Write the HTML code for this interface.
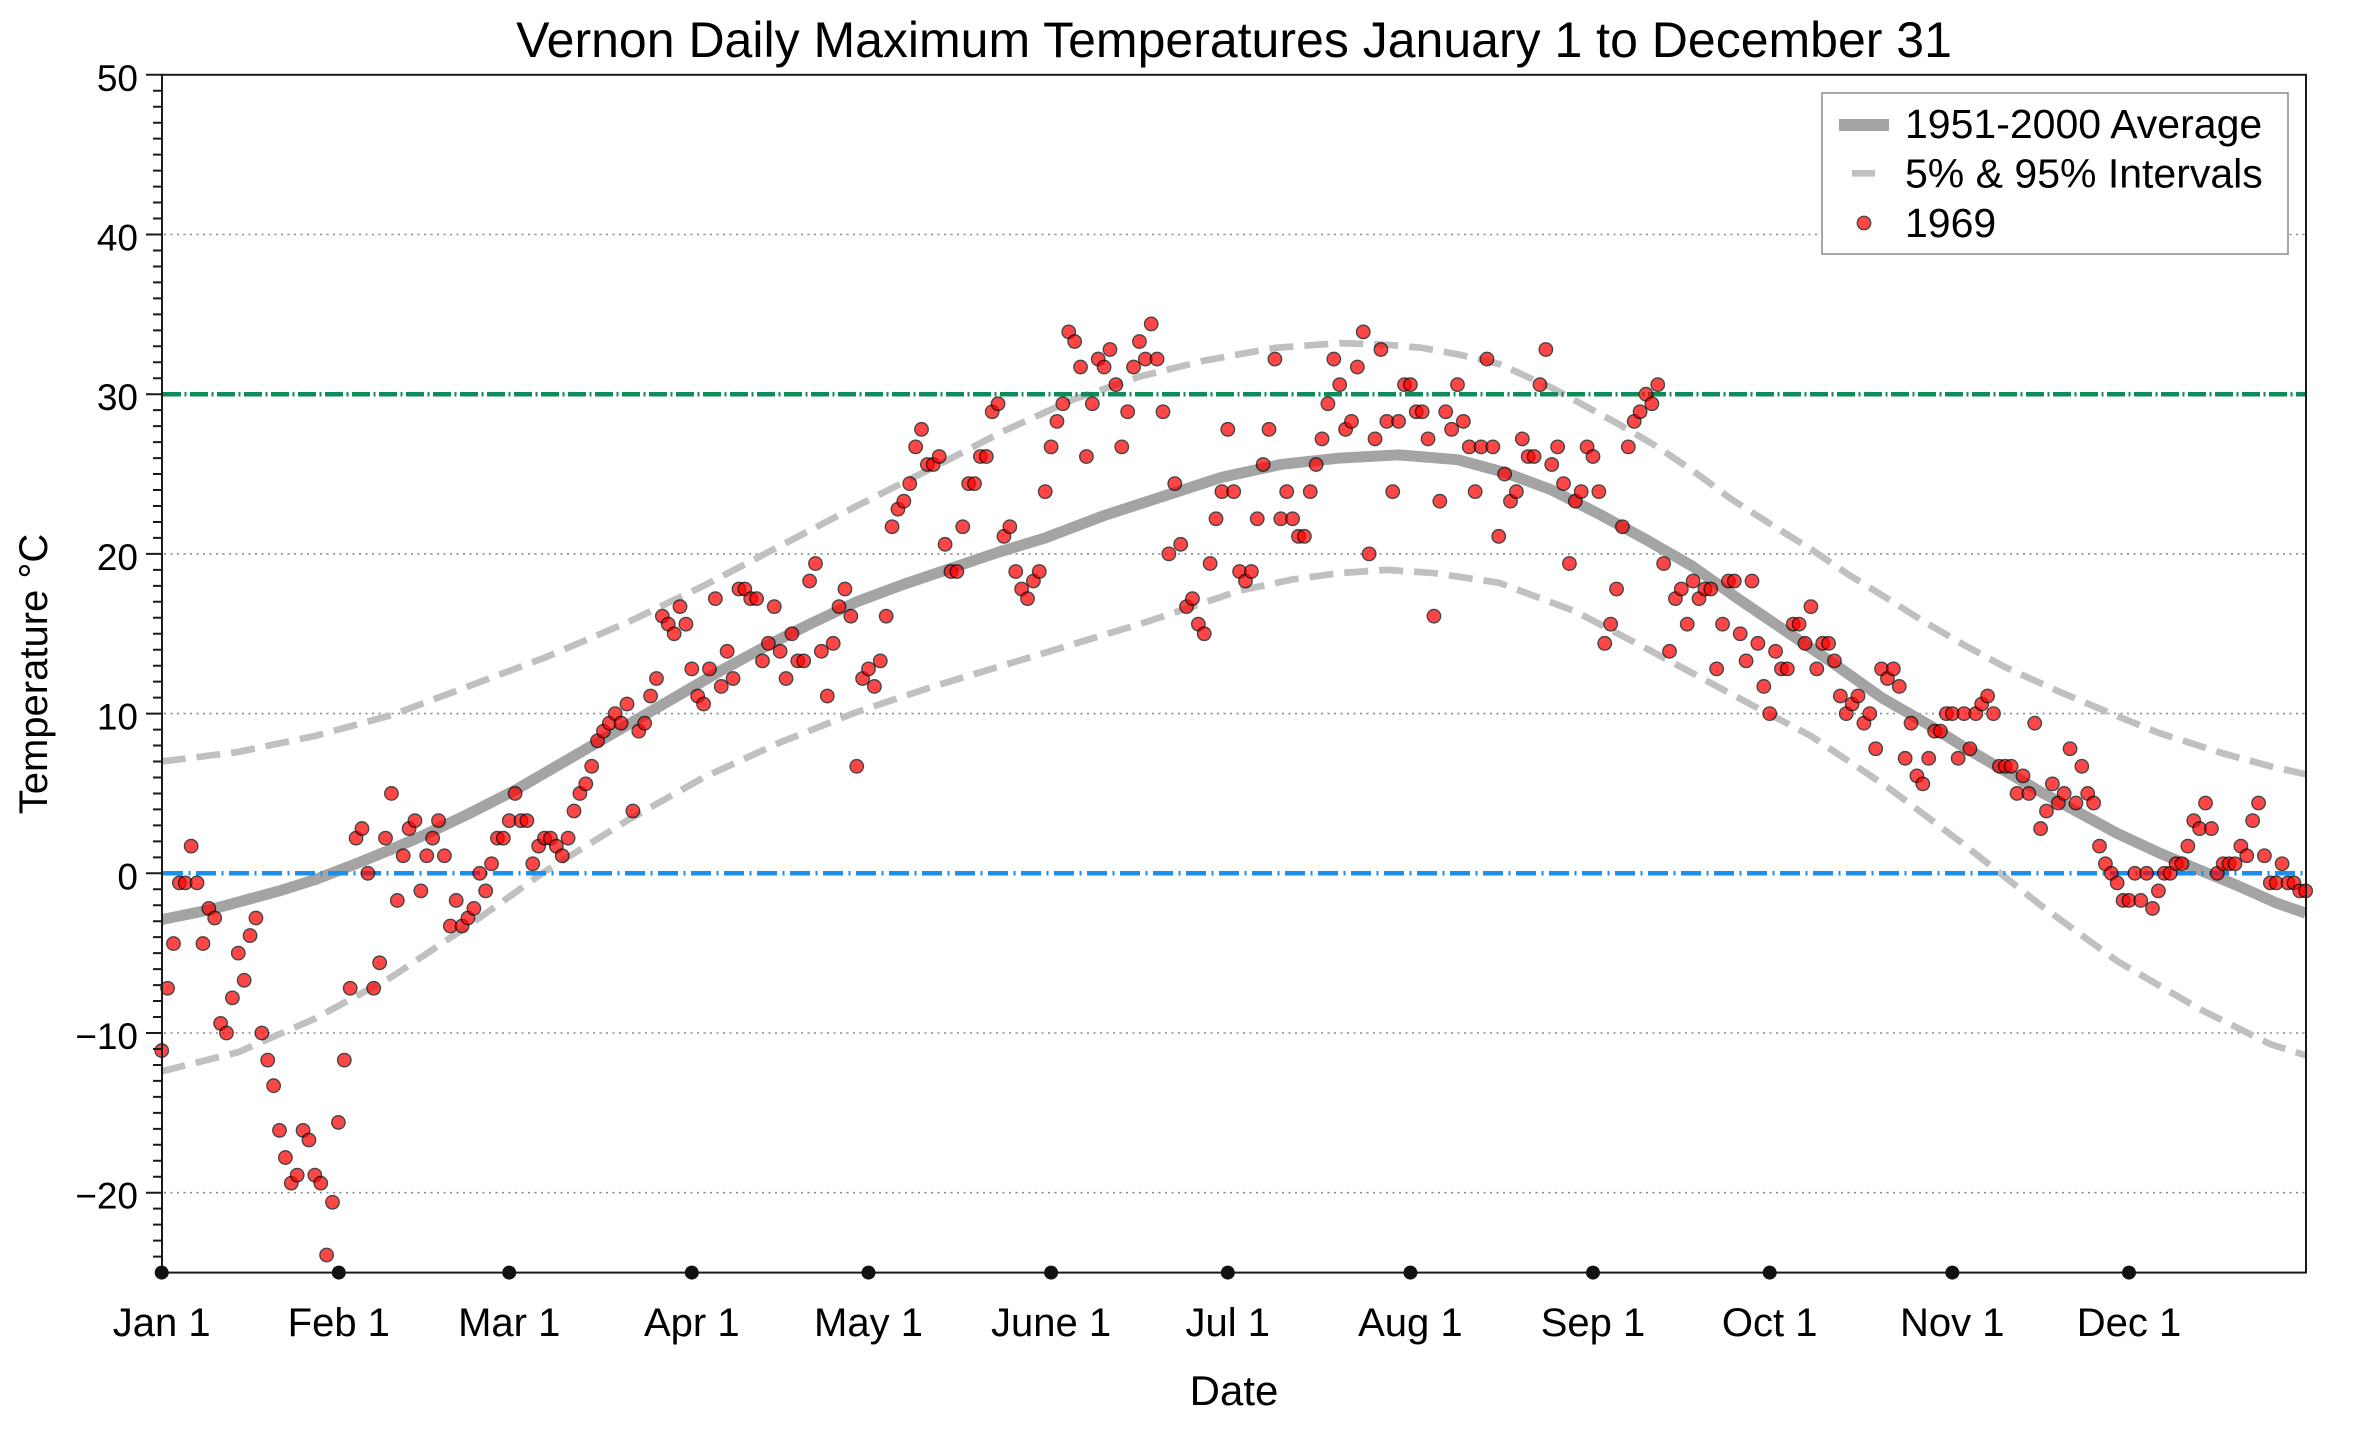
<!DOCTYPE html>
<html><head><meta charset="utf-8"><style>
html,body{margin:0;padding:0;background:#fff;}
svg{display:block;}
text{font-family:"Liberation Sans",Arial,sans-serif;fill:#000;}
</style></head><body>
<svg xmlns="http://www.w3.org/2000/svg" width="2360" height="1432" viewBox="0 0 2360 1432">
<defs>
<marker id="dot" markerUnits="userSpaceOnUse" markerWidth="4" markerHeight="4" refX="0" refY="0" orient="0" overflow="visible">
<g opacity="0.72"><ellipse cx="0" cy="0" rx="1.2564" ry="0.4634" fill="#000"/><ellipse cx="0" cy="0" rx="1.0187" ry="0.3757" fill="#ff0000"/></g>
</marker>
</defs>
<rect width="2360" height="1432" fill="#fff"/>
<text x="1234" y="57" font-size="50" text-anchor="middle">Vernon Daily Maximum Temperatures January 1 to December 31</text>

<!-- grid -->
<g stroke="#8a8a8a" stroke-width="1.6" stroke-dasharray="2 4.5" fill="none">
<path d="M164,234.5H2306M164,553.9H2306M164,713.6H2306M164,1033H2306M164,1192.7H2306"/>
</g>

<!-- curves in data coordinates -->
<g transform="translate(161.7,873.3) scale(5.89,-15.97)" fill="none" stroke-linejoin="round">
<polyline vector-effect="non-scaling-stroke" stroke="#c0c0c0" stroke-width="6.7" stroke-dasharray="24 11" points="0,7.0 13,7.6 26,8.6 39,9.9 52,11.7 65,13.5 79,15.7 92,18.0 105,20.5 118,23.0 132,25.6 143,27.7 155,29.7 166,31.1 177,32.1 189,32.9 200,33.2 208,33.1 214,32.9 220,32.5 227,31.9 236,30.4 247,28.2 253.5,26.8 260,25.2 266.6,23.4 273,21.9 280,20.3 286.4,18.7 293,17.2 299,15.8 306,14.3 313,12.9 322,11.4 331,10.0 339,8.8 350,7.5 358,6.7 364,6.2"/>
<polyline vector-effect="non-scaling-stroke" stroke="#c0c0c0" stroke-width="6.7" stroke-dasharray="24 11" points="0,-12.4 13,-11.2 26,-9.1 39,-6.5 52,-3.3 65,0.1 79,3.3 92,6.0 105,8.2 118,10.1 131,11.7 140,12.7 149,13.7 157,14.6 166,15.6 175,16.7 183,17.7 192,18.4 200,18.8 208,19.0 216,18.8 227,18.2 240,16.4 253.5,13.8 266.6,11.2 280,8.6 293,5.4 306,1.8 319,-2.0 332,-5.5 346,-8.5 358,-10.7 364,-11.4"/>
<polyline vector-effect="non-scaling-stroke" stroke="#a4a4a4" stroke-width="11" points="0,-2.9 8,-2.3 13,-1.8 20,-1.1 26,-0.4 33,0.6 39,1.5 44,2.3 52,3.7 60,5.2 67,6.7 74,8.2 81,9.7 88,11.2 95,12.7 103,14.3 110,15.6 118,17.0 126,18.1 134,19.1 142,20.1 150,21.0 160,22.4 170,23.6 180,24.8 190,25.6 200,26.0 210,26.2 220,25.9 228,25.1 236,24.0 244,22.5 252,20.9 260,19.2 268,17.1 276,15.1 284,13.1 292,11.0 300,9.3 306,7.9 313,6.4 319,5.1 326,3.7 332,2.5 339,1.3 346,0.2 352,-0.7 359,-1.85 364,-2.5"/>
</g>

<!-- reference lines -->
<path d="M163,394.2H2305" stroke="#0f8b5a" stroke-width="4.5" stroke-dasharray="18 3.5 2 3.5" fill="none"/>
<path d="M163,873.3H2305" stroke="#1a8ff0" stroke-width="4.5" stroke-dasharray="20 5.5 2 5.5" fill="none"/>

<!-- data points -->
<g transform="translate(161.7,873.3) scale(5.89,-15.97)">
<polyline fill="none" stroke="none" marker-start="url(#dot)" marker-mid="url(#dot)" marker-end="url(#dot)" points="0,-11.1 1,-7.2 2,-4.4 3,-0.6 4,-0.6 5,1.7 6,-0.6 7,-4.4 8,-2.2 9,-2.8 10,-9.4 11,-10.0 12,-7.8 13,-5.0 14,-6.7 15,-3.9 16,-2.8 17,-10.0 18,-11.7 19,-13.3 20,-16.1 21,-17.8 22,-19.4 23,-18.9 24,-16.1 25,-16.7 26,-18.9 27,-19.4 28,-23.9 29,-20.6 30,-15.6 31,-11.7 32,-7.2 33,2.2 34,2.8 35,0 36,-7.2 37,-5.6 38,2.2 39,5.0 40,-1.7 41,1.1 42,2.8 43,3.3 44,-1.1 45,1.1 46,2.2 47,3.3 48,1.1 49,-3.3 50,-1.7 51,-3.3 52,-2.8 53,-2.2 54,0 55,-1.1 56,0.6 57,2.2 58,2.2 59,3.3 60,5.0 61,3.3 62,3.3 63,0.6 64,1.7 65,2.2 66,2.2 67,1.7 68,1.1 69,2.2 70,3.9 71,5.0 72,5.6 73,6.7 74,8.3 75,8.9 76,9.4 77,10.0 78,9.4 79,10.6 80,3.9 81,8.9 82,9.4 83,11.1 84,12.2 85,16.1 86,15.6 87,15.0 88,16.7 89,15.6 90,12.8 91,11.1 92,10.6 93,12.8 94,17.2 95,11.7 96,13.9 97,12.2 98,17.8 99,17.8 100,17.2 101,17.2 102,13.3 103,14.4 104,16.7 105,13.9 106,12.2 107,15.0 108,13.3 109,13.3 110,18.3 111,19.4 112,13.9 113,11.1 114,14.4 115,16.7 116,17.8 117,16.1 118,6.7 119,12.2 120,12.8 121,11.7 122,13.3 123,16.1 124,21.7 125,22.8 126,23.3 127,24.4 128,26.7 129,27.8 130,25.6 131,25.6 132,26.1 133,20.6 134,18.9 135,18.9 136,21.7 137,24.4 138,24.4 139,26.1 140,26.1 141,28.9 142,29.4 143,21.1 144,21.7 145,18.9 146,17.8 147,17.2 148,18.3 149,18.9 150,23.9 151,26.7 152,28.3 153,29.4 154,33.9 155,33.3 156,31.7 157,26.1 158,29.4 159,32.2 160,31.7 161,32.8 162,30.6 163,26.7 164,28.9 165,31.7 166,33.3 167,32.2 168,34.4 169,32.2 170,28.9 171,20.0 172,24.4 173,20.6 174,16.7 175,17.2 176,15.6 177,15.0 178,19.4 179,22.2 180,23.9 181,27.8 182,23.9 183,18.9 184,18.3 185,18.9 186,22.2 187,25.6 188,27.8 189,32.2 190,22.2 191,23.9 192,22.2 193,21.1 194,21.1 195,23.9 196,25.6 197,27.2 198,29.4 199,32.2 200,30.6 201,27.8 202,28.3 203,31.7 204,33.9 205,20.0 206,27.2 207,32.8 208,28.3 209,23.9 210,28.3 211,30.6 212,30.6 213,28.9 214,28.9 215,27.2 216,16.1 217,23.3 218,28.9 219,27.8 220,30.6 221,28.3 222,26.7 223,23.9 224,26.7 225,32.2 226,26.7 227,21.1 228,25.0 229,23.3 230,23.9 231,27.2 232,26.1 233,26.1 234,30.6 235,32.8 236,25.6 237,26.7 238,24.4 239,19.4 240,23.3 241,23.9 242,26.7 243,26.1 244,23.9 245,14.4 246,15.6 247,17.8 248,21.7 249,26.7 250,28.3 251,28.9 252,30.0 253,29.4 254,30.6 255,19.4 256,13.9 257,17.2 258,17.8 259,15.6 260,18.3 261,17.2 262,17.8 263,17.8 264,12.8 265,15.6 266,18.3 267,18.3 268,15.0 269,13.3 270,18.3 271,14.4 272,11.7 273,10.0 274,13.9 275,12.8 276,12.8 277,15.6 278,15.6 279,14.4 280,16.7 281,12.8 282,14.4 283,14.4 284,13.3 285,11.1 286,10.0 287,10.6 288,11.1 289,9.4 290,10.0 291,7.8 292,12.8 293,12.2 294,12.8 295,11.7 296,7.2 297,9.4 298,6.1 299,5.6 300,7.2 301,8.9 302,8.9 303,10.0 304,10.0 305,7.2 306,10.0 307,7.8 308,10.0 309,10.6 310,11.1 311,10.0 312,6.7 313,6.7 314,6.7 315,5.0 316,6.1 317,5.0 318,9.4 319,2.8 320,3.9 321,5.6 322,4.4 323,5.0 324,7.8 325,4.4 326,6.7 327,5.0 328,4.4 329,1.7 330,0.6 331,0 332,-0.6 333,-1.7 334,-1.7 335,0 336,-1.7 337,0 338,-2.2 339,-1.1 340,0 341,0 342,0.6 343,0.6 344,1.7 345,3.3 346,2.8 347,4.4 348,2.8 349,0 350,0.6 351,0.6 352,0.6 353,1.7 354,1.1 355,3.3 356,4.4 357,1.1 358,-0.6 359,-0.6 360,0.6 361,-0.6 362,-0.6 363,-1.1 364,-1.1"/>
</g>

<!-- axes frame -->
<rect x="162" y="74.8" width="2144" height="1197.8" fill="none" stroke="#1a1a1a" stroke-width="2"/>

<!-- y ticks -->
<g stroke="#1a1a1a" stroke-width="2" fill="none">
<path d="M146,74.8H162M146,234.5H162M146,394.2H162M146,553.9H162M146,713.6H162M146,873.3H162M146,1033H162M146,1192.7H162"/>
</g>
<g transform="translate(0,873.3) scale(1,-15.97)" fill="none">
<path vector-effect="non-scaling-stroke" stroke="#1a1a1a" stroke-width="2" d="M153,49H162M153,48H162M153,47H162M153,46H162M153,45H162M153,44H162M153,43H162M153,42H162M153,41H162M153,39H162M153,38H162M153,37H162M153,36H162M153,35H162M153,34H162M153,33H162M153,32H162M153,31H162M153,29H162M153,28H162M153,27H162M153,26H162M153,25H162M153,24H162M153,23H162M153,22H162M153,21H162M153,19H162M153,18H162M153,17H162M153,16H162M153,15H162M153,14H162M153,13H162M153,12H162M153,11H162M153,9H162M153,8H162M153,7H162M153,6H162M153,5H162M153,4H162M153,3H162M153,2H162M153,1H162M153,-1H162M153,-2H162M153,-3H162M153,-4H162M153,-5H162M153,-6H162M153,-7H162M153,-8H162M153,-9H162M153,-11H162M153,-12H162M153,-13H162M153,-14H162M153,-15H162M153,-16H162M153,-17H162M153,-18H162M153,-19H162M153,-21H162M153,-22H162M153,-23H162M153,-24H162"/>
</g>
<g font-size="37" text-anchor="end">
<text x="138" y="91">50</text>
<text x="138" y="250.5">40</text>
<text x="138" y="410.2">30</text>
<text x="138" y="569.9">20</text>
<text x="138" y="729.6">10</text>
<text x="138" y="889.3">0</text>
<text x="138" y="1049">−10</text>
<text x="138" y="1208.7">−20</text>
</g>

<!-- x ticks -->
<g fill="#111">
<circle cx="161.7" cy="1272.6" r="7"/><circle cx="338.8" cy="1272.6" r="7"/><circle cx="509.2" cy="1272.6" r="7"/><circle cx="691.8" cy="1272.6" r="7"/><circle cx="868.5" cy="1272.6" r="7"/><circle cx="1051.1" cy="1272.6" r="7"/><circle cx="1227.8" cy="1272.6" r="7"/><circle cx="1410.4" cy="1272.6" r="7"/><circle cx="1593" cy="1272.6" r="7"/><circle cx="1769.7" cy="1272.6" r="7"/><circle cx="1952.3" cy="1272.6" r="7"/><circle cx="2129" cy="1272.6" r="7"/>
</g>
<g font-size="40" text-anchor="middle">
<text x="161.7" y="1336">Jan 1</text>
<text x="338.8" y="1336">Feb 1</text>
<text x="509.2" y="1336">Mar 1</text>
<text x="691.8" y="1336">Apr 1</text>
<text x="868.5" y="1336">May 1</text>
<text x="1051.1" y="1336">June 1</text>
<text x="1227.8" y="1336">Jul 1</text>
<text x="1410.4" y="1336">Aug 1</text>
<text x="1593" y="1336">Sep 1</text>
<text x="1769.7" y="1336">Oct 1</text>
<text x="1952.3" y="1336">Nov 1</text>
<text x="2129" y="1336">Dec 1</text>
</g>
<text x="1234" y="1405" font-size="42" text-anchor="middle">Date</text>
<text transform="translate(47,674) rotate(-90)" font-size="40" text-anchor="middle">Temperature °C</text>

<!-- legend -->
<rect x="1822" y="93" width="466" height="161" fill="#fff" stroke="#8c8c8c" stroke-width="1.5"/>
<path d="M1839,125H1889" stroke="#a4a4a4" stroke-width="12"/>
<path d="M1852,173.3H1875" stroke="#c0c0c0" stroke-width="6.7"/>
<g opacity="0.72"><circle cx="1864" cy="223" r="7.4" fill="#000"/><circle cx="1864" cy="223" r="6" fill="#f00"/></g>
<g font-size="41">
<text x="1905" y="138">1951-2000 Average</text>
<text x="1905" y="187.5">5% &amp; 95% Intervals</text>
<text x="1905" y="237">1969</text>
</g>
</svg>
</body></html>
